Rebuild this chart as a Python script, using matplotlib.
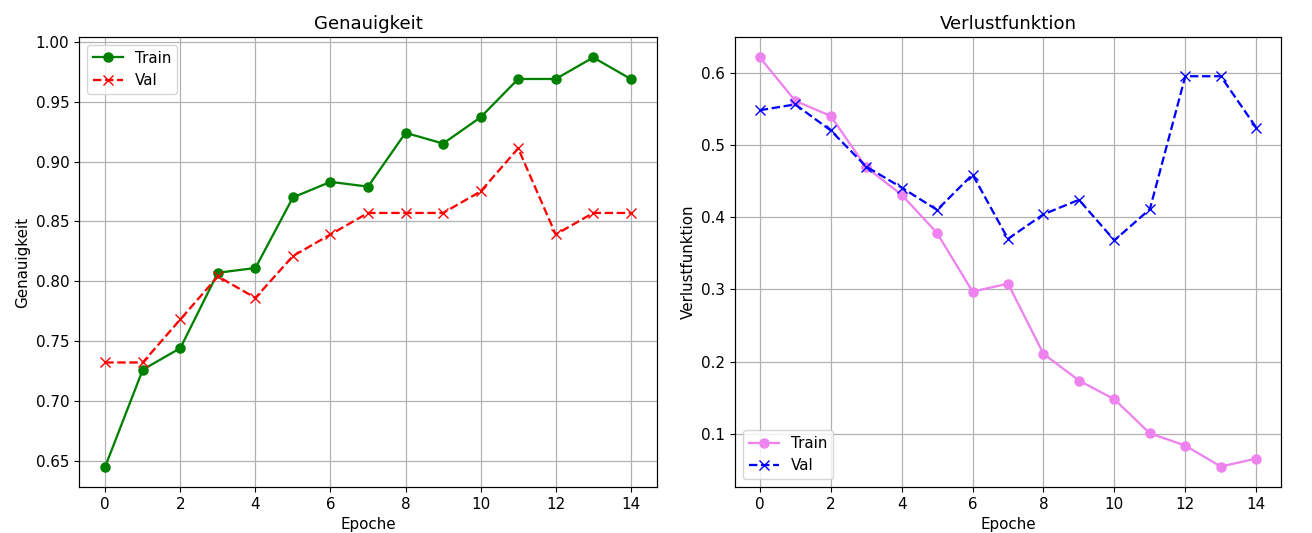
import numpy as np
import matplotlib
matplotlib.use("Agg")
import matplotlib.pyplot as plt

# Daten
epochen = np.arange(15)

acc_train = [0.645, 0.726, 0.744, 0.807, 0.811, 0.870, 0.883, 0.879, 0.924, 0.915,
             0.937, 0.969, 0.969, 0.987, 0.969]
acc_val = [0.732, 0.732, 0.768, 0.804, 0.786, 0.821, 0.839, 0.857, 0.857, 0.857,
           0.875, 0.911, 0.839, 0.857, 0.857]

loss_train = [0.621, 0.561, 0.540, 0.469, 0.431, 0.378, 0.297, 0.308, 0.211, 0.174,
              0.148, 0.101, 0.084, 0.055, 0.066]
loss_val = [0.548, 0.556, 0.520, 0.470, 0.441, 0.410, 0.459, 0.370, 0.404, 0.424,
            0.368, 0.411, 0.595, 0.595, 0.524]

# etwas groesser skaliert wie im Original
s = 1.09
plt.rcParams["font.size"] = 10 * s
plt.rcParams["lines.linewidth"] = 1.5 * s
plt.rcParams["lines.markersize"] = 6 * s
plt.rcParams["axes.linewidth"] = 0.8 * s
plt.rcParams["grid.linewidth"] = 0.8 * s

fig = plt.figure(figsize=(13.12, 5.33), dpi=100)
ax1 = fig.add_axes([0.0602, 0.0863, 0.4406, 0.8443])
ax2 = fig.add_axes([0.5602, 0.0863, 0.4162, 0.8443])

# Genauigkeit
ax1.plot(epochen, acc_train, "o-", color="green", label="Train")
ax1.plot(epochen, acc_val, "x--", color="red", label="Val")
ax1.set_title("Genauigkeit")
ax1.set_xlabel("Epoche")
ax1.set_ylabel("Genauigkeit")
ax1.set_xticks(range(0, 15, 2))
ax1.legend(loc="upper left")
ax1.grid(True)

# Verlustfunktion
ax2.plot(epochen, loss_train, "o-", color="violet", label="Train")
ax2.plot(epochen, loss_val, "x--", color="blue", label="Val")
ax2.set_title("Verlustfunktion")
ax2.set_xlabel("Epoche")
ax2.set_ylabel("Verlustfunktion")
ax2.set_xticks(range(0, 15, 2))
ax2.legend(loc="lower left")
ax2.grid(True)

fig.savefig("out.png", dpi=100)
